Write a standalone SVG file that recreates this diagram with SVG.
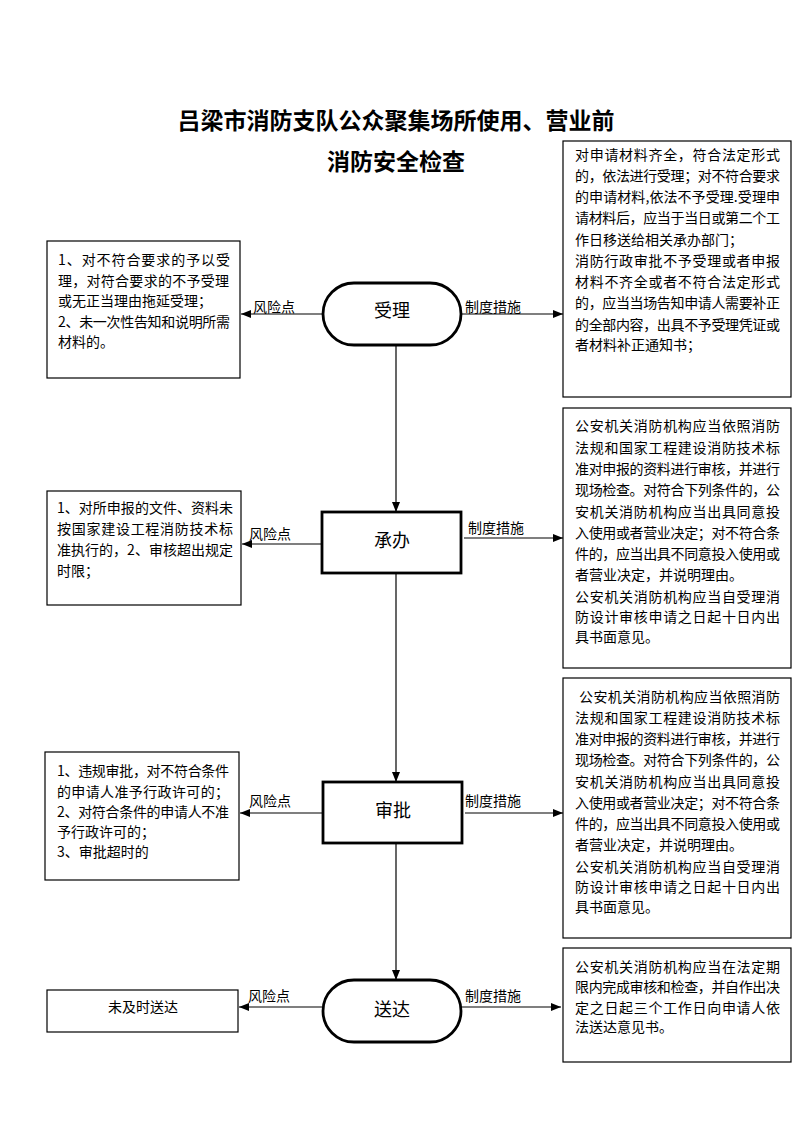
<svg xmlns="http://www.w3.org/2000/svg" width="793" height="1122" viewBox="0 0 793 1122">
<defs>
<marker id="ah" viewBox="0 0 10 8" refX="10" refY="4" markerWidth="10" markerHeight="8" markerUnits="userSpaceOnUse" orient="auto">
<path d="M0,0 L10,4 L0,8 Z" fill="#000"/>
</marker>
<style>
text{font-family:"Noto Sans CJK SC","Noto Sans",sans-serif;fill:#000}
.t{font-size:14px}
.lbl{font-size:14px}
.nd{font-size:18px;text-anchor:middle}
.title{font-size:23px;font-weight:bold;text-anchor:middle}
.box{fill:#fff;stroke:#000;stroke-width:1.2}
.node{fill:#fff;stroke:#000;stroke-width:2.8}
.cn{fill:none;stroke:#000;stroke-width:1.2;marker-end:url(#ah)}
</style>
</defs>
<rect width="793" height="1122" fill="#fff"/>
<g id="title">
<text class="title" x="396" y="129">吕梁市消防支队公众聚集场所使用、营业前</text>
<text class="title" x="396" y="170">消防安全检查</text>
</g>
<g id="connectors">
<line class="cn" x1="396" y1="345" x2="396" y2="512"/>
<line class="cn" x1="396" y1="573" x2="396" y2="782"/>
<line class="cn" x1="396" y1="843" x2="396" y2="980"/>
<line class="cn" x1="323" y1="314" x2="241" y2="314"/>
<line class="cn" x1="461" y1="314" x2="563" y2="314"/>
<line class="cn" x1="322" y1="544" x2="242" y2="544"/>
<line class="cn" x1="464" y1="538" x2="563" y2="538"/>
<line class="cn" x1="322" y1="813" x2="240" y2="813"/>
<line class="cn" x1="465" y1="813" x2="563" y2="813"/>
<line class="cn" x1="322" y1="1007" x2="239" y2="1007"/>
<line class="cn" x1="461" y1="1007" x2="561" y2="1007"/>
<text class="lbl" x="253" y="312">风险点</text>
<text class="lbl" x="465" y="312">制度措施</text>
<text class="lbl" x="249" y="539">风险点</text>
<text class="lbl" x="468" y="533">制度措施</text>
<text class="lbl" x="249" y="806">风险点</text>
<text class="lbl" x="465" y="806">制度措施</text>
<text class="lbl" x="248" y="1001">风险点</text>
<text class="lbl" x="465" y="1001">制度措施</text>
</g>
<g id="n1">
<rect class="node" x="323" y="283" width="138" height="62" rx="31" ry="31"/>
<text class="nd" x="392" y="317">受理</text>
</g>
<g id="n2">
<rect class="node" x="322" y="512" width="139" height="61"/>
<text class="nd" x="392" y="547">承办</text>
</g>
<g id="n3">
<rect class="node" x="323" y="782" width="139" height="61"/>
<text class="nd" x="393" y="817">审批</text>
</g>
<g id="n4">
<rect class="node" x="323" y="980" width="138" height="62" rx="31" ry="31"/>
<text class="nd" x="392" y="1016">送达</text>
</g>
<g id="r1">
<rect class="box" x="47" y="241" width="193" height="137"/>
<text class="t" x="58" y="265" textLength="172" lengthAdjust="spacing">1、对不符合要求的予以受</text>
<text class="t" x="58" y="286" textLength="171" lengthAdjust="spacing">理，对符合要求的不予受理</text>
<text class="t" x="58" y="306">或无正当理由拖延受理；</text>
<text class="t" x="58" y="327" textLength="172" lengthAdjust="spacing">2、未一次性告知和说明所需</text>
<text class="t" x="58" y="347">材料的。</text>
</g>
<g id="m1">
<rect class="box" x="563" y="141" width="228" height="256"/>
<text class="t" x="575" y="160" textLength="205" lengthAdjust="spacing">对申请材料齐全，符合法定形式</text>
<text class="t" x="575" y="181" textLength="205" lengthAdjust="spacing">的，依法进行受理；对不符合要求</text>
<text class="t" x="575" y="202" textLength="205" lengthAdjust="spacing">的申请材料,依法不予受理.受理申</text>
<text class="t" x="575" y="223" textLength="205" lengthAdjust="spacing">请材料后，应当于当日或第二个工</text>
<text class="t" x="575" y="245">作日移送给相关承办部门；</text>
<text class="t" x="575" y="266" textLength="205" lengthAdjust="spacing">消防行政审批不予受理或者申报</text>
<text class="t" x="575" y="287" textLength="205" lengthAdjust="spacing">材料不齐全或者不符合法定形式</text>
<text class="t" x="575" y="308" textLength="205" lengthAdjust="spacing">的，应当当场告知申请人需要补正</text>
<text class="t" x="575" y="330" textLength="205" lengthAdjust="spacing">的全部内容，出具不予受理凭证或</text>
<text class="t" x="575" y="350">者材料补正通知书；</text>
</g>
<g id="r2">
<rect class="box" x="47" y="491" width="194" height="114"/>
<text class="t" x="57" y="513" textLength="176" lengthAdjust="spacing">1、对所申报的文件、资料未</text>
<text class="t" x="57" y="534" textLength="176" lengthAdjust="spacing">按国家建设工程消防技术标</text>
<text class="t" x="57" y="555" textLength="176" lengthAdjust="spacing">准执行的，2、审核超出规定</text>
<text class="t" x="57" y="576">时限；</text>
</g>
<g id="m2">
<rect class="box" x="563" y="408" width="228" height="260"/>
<text class="t" x="575" y="431" textLength="205" lengthAdjust="spacing">公安机关消防机构应当依照消防</text>
<text class="t" x="575" y="453" textLength="205" lengthAdjust="spacing">法规和国家工程建设消防技术标</text>
<text class="t" x="575" y="474" textLength="205" lengthAdjust="spacing">准对申报的资料进行审核，并进行</text>
<text class="t" x="575" y="495" textLength="205" lengthAdjust="spacing">现场检查。对符合下列条件的，公</text>
<text class="t" x="575" y="517" textLength="205" lengthAdjust="spacing">安机关消防机构应当出具同意投</text>
<text class="t" x="575" y="538" textLength="205" lengthAdjust="spacing">入使用或者营业决定；对不符合条</text>
<text class="t" x="575" y="559" textLength="205" lengthAdjust="spacing">件的，应当出具不同意投入使用或</text>
<text class="t" x="575" y="580">者营业决定，并说明理由。</text>
<text class="t" x="575" y="602" textLength="205" lengthAdjust="spacing">公安机关消防机构应当自受理消</text>
<text class="t" x="575" y="622" textLength="205" lengthAdjust="spacing">防设计审核申请之日起十日内出</text>
<text class="t" x="575" y="642">具书面意见。</text>
</g>
<g id="r3">
<rect class="box" x="45" y="752" width="194" height="128"/>
<text class="t" x="57" y="776" textLength="172" lengthAdjust="spacing">1、违规审批，对不符合条件</text>
<text class="t" x="57" y="797" textLength="172" lengthAdjust="spacing">的申请人准予行政许可的；</text>
<text class="t" x="57" y="817" textLength="172" lengthAdjust="spacing">2、对符合条件的申请人不准</text>
<text class="t" x="57" y="837">予行政许可的；</text>
<text class="t" x="57" y="857">3、审批超时的</text>
</g>
<g id="m3">
<rect class="box" x="563" y="678" width="228" height="260"/>
<text class="t" x="579" y="702" textLength="201" lengthAdjust="spacing">公安机关消防机构应当依照消防</text>
<text class="t" x="575" y="723" textLength="205" lengthAdjust="spacing">法规和国家工程建设消防技术标</text>
<text class="t" x="575" y="744" textLength="205" lengthAdjust="spacing">准对申报的资料进行审核，并进行</text>
<text class="t" x="575" y="765" textLength="205" lengthAdjust="spacing">现场检查。对符合下列条件的，公</text>
<text class="t" x="575" y="787" textLength="205" lengthAdjust="spacing">安机关消防机构应当出具同意投</text>
<text class="t" x="575" y="808" textLength="205" lengthAdjust="spacing">入使用或者营业决定；对不符合条</text>
<text class="t" x="575" y="829" textLength="205" lengthAdjust="spacing">件的，应当出具不同意投入使用或</text>
<text class="t" x="575" y="850">者营业决定，并说明理由。</text>
<text class="t" x="575" y="872" textLength="205" lengthAdjust="spacing">公安机关消防机构应当自受理消</text>
<text class="t" x="575" y="892" textLength="205" lengthAdjust="spacing">防设计审核申请之日起十日内出</text>
<text class="t" x="575" y="912">具书面意见。</text>
</g>
<g id="r4">
<rect class="box" x="47" y="990" width="191" height="42"/>
<text class="t" x="143" y="1012" text-anchor="middle">未及时送达</text>
</g>
<g id="m4">
<rect class="box" x="563" y="948" width="228" height="114"/>
<text class="t" x="575" y="972" textLength="205" lengthAdjust="spacing">公安机关消防机构应当在法定期</text>
<text class="t" x="575" y="992" textLength="205" lengthAdjust="spacing">限内完成审核和检查，并自作出决</text>
<text class="t" x="575" y="1013" textLength="205" lengthAdjust="spacing">定之日起三个工作日向申请人依</text>
<text class="t" x="575" y="1032">法送达意见书。</text>
</g>
</svg>
